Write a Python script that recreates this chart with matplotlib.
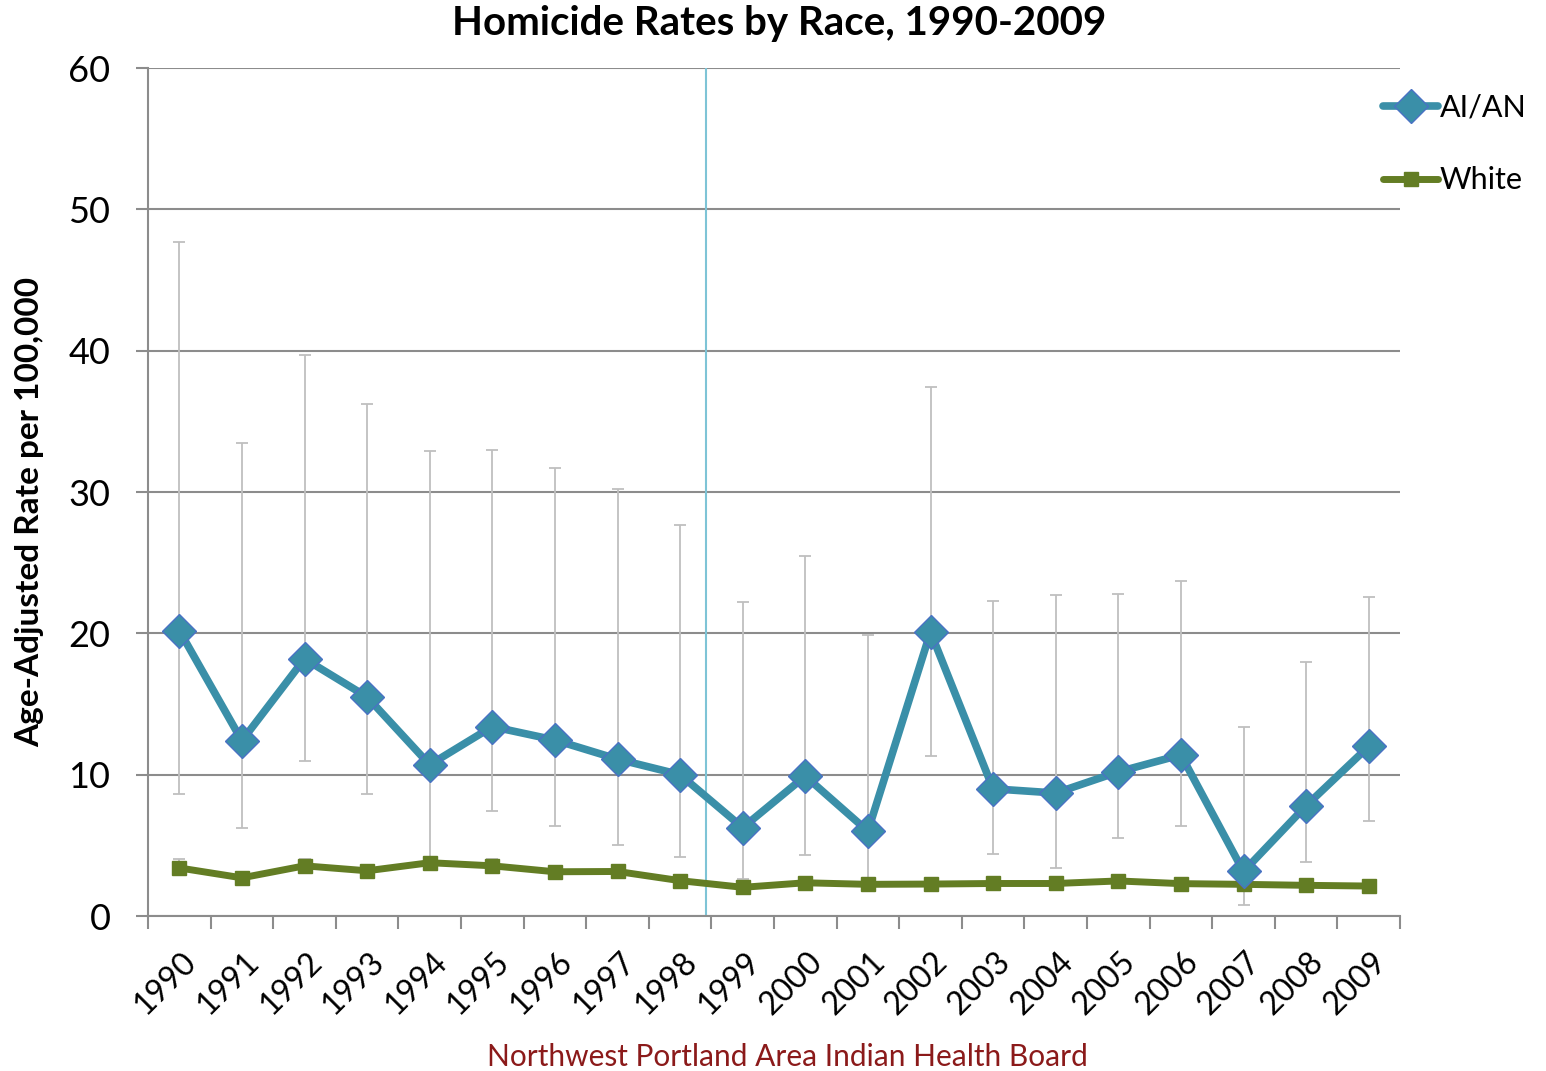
import matplotlib.pyplot as plt
import matplotlib.transforms as mtransforms
import numpy as np

years = [str(y) for y in range(1990, 2010)]
aian = [20.2, 12.4, 18.2, 15.5, 10.7, 13.4, 12.45, 11.1, 10.0, 6.25,
        9.9, 6.0, 20.1, 9.0, 8.7, 10.2, 11.4, 3.15, 7.8, 12.0]
aian_hi = [47.7, 33.5, 39.7, 36.2, 32.9, 33.0, 31.7, 30.2, 27.7, 22.2,
           25.5, 19.9, 37.4, 22.3, 22.7, 22.8, 23.7, 13.4, 18.0, 22.6]
aian_lo = [8.65, 6.2, 11.0, 8.65, 3.4, 7.4, 6.4, 5.0, 4.2, 2.65,
           4.3, 2.4, 11.3, 4.4, 3.4, 5.5, 6.4, 0.8, 3.85, 6.7]
white = [3.4, 2.7, 3.55, 3.2, 3.77, 3.55, 3.13, 3.15, 2.5, 2.03,
         2.35, 2.24, 2.26, 2.3, 2.3, 2.48, 2.29, 2.24, 2.17, 2.12]
white_hi = [4.0, 3.0, 4.0, 3.5, 4.2, 4.0, 3.4, 3.4, 2.7, 2.2,
            2.5, 2.4, 2.4, 2.45, 2.45, 2.6, 2.4, 2.4, 2.3, 2.25]
white_lo = [3.0, 2.4, 3.2, 2.9, 3.4, 3.2, 2.9, 2.9, 2.3, 1.85,
            2.2, 2.1, 2.1, 2.15, 2.15, 2.35, 2.15, 2.1, 2.05, 2.0]
marker_line = 8.42  # vertical reference line position (category units)

plt.rcParams['font.family'] = ['Lato', 'DejaVu Sans']

fig = plt.figure(figsize=(15.46, 10.71), dpi=100)
ax = fig.add_axes([148/1546, 1-916/1071, (1400-148)/1546, (916-68)/1071])

x = np.arange(len(years))
aian = np.array(aian); white = np.array(white)
err_a = [aian - np.array(aian_lo), np.array(aian_hi) - aian]
err_w = [white - np.array(white_lo), np.array(white_hi) - white]

ax.errorbar(x, aian, yerr=err_a, fmt='none', ecolor='#BFBFBF', elinewidth=1.3,
            capsize=4.5, capthick=1.3, zorder=2)
ax.errorbar(x, white, yerr=err_w, fmt='none', ecolor='#BFBFBF', elinewidth=1.3,
            capsize=4.5, capthick=1.3, zorder=2)
ax.plot(x, aian, color='#3A8FA8', lw=5.5, marker='D', markersize=17,
        markerfacecolor='#3A8FA8', markeredgecolor='#4A72C4', markeredgewidth=1,
        label='AI/AN', zorder=4, solid_capstyle='round')
ax.plot(x, white, color='#637D24', lw=5, marker='s', markersize=10,
        markerfacecolor='#637D24', markeredgecolor='#637D24',
        label='White', zorder=3, solid_capstyle='round')
ax.axvline(marker_line, color='#7EC4D6', lw=1.5, zorder=1)

ax.set_xlim(-0.5, 19.5)
ax.set_ylim(0, 60)
ax.set_yticks(range(0, 61, 10))
ax.yaxis.grid(True, color='#8C8C8C', lw=1.5)
ax.set_axisbelow(True)
ax.tick_params(axis='y', labelsize=26, length=9, color='#8C8C8C', width=1.5, pad=18)
ax.set_xticks(x)
ax.set_xticklabels(years, rotation=45, ha='right', rotation_mode='anchor', fontsize=23)
ax.set_xticks(np.arange(-0.5, 20, 1), minor=True)
ax.tick_params(axis='x', which='major', length=0, pad=22)
ax.tick_params(axis='x', which='minor', length=9, color='#8C8C8C', width=1.5)
shift = mtransforms.ScaledTranslation(2/100, 0, fig.dpi_scale_trans)
for lab in ax.get_xticklabels():
    lab.set_transform(lab.get_transform() + shift)
for s in ['top', 'right']:
    ax.spines[s].set_visible(False)
for s in ['left', 'bottom']:
    ax.spines[s].set_color('#8C8C8C')
    ax.spines[s].set_linewidth(1.5)

ax.set_ylabel('Age-Adjusted Rate per 100,000', fontsize=24, fontweight='bold')
ax.yaxis.set_label_coords((44-148)/1252, (916-512)/848)
fig.text(779/1546, 1-24/1071, 'Homicide Rates by Race, 1990-2009', ha='center', va='center',
         fontsize=29, fontweight='bold')
fig.text(787/1546, 1-1057/1071, 'Northwest Portland Area Indian Health Board', ha='center',
         va='center', fontsize=21.5, color='#8B1A1A')

ax.legend(loc='upper left', bbox_to_anchor=(1383/1546, 1-94/1071), bbox_transform=fig.transFigure,
          frameon=False, fontsize=22, handlelength=1.8, handletextpad=0.05, labelspacing=1.45,
          borderaxespad=0, borderpad=0)

fig.savefig('out.png', dpi=100)
